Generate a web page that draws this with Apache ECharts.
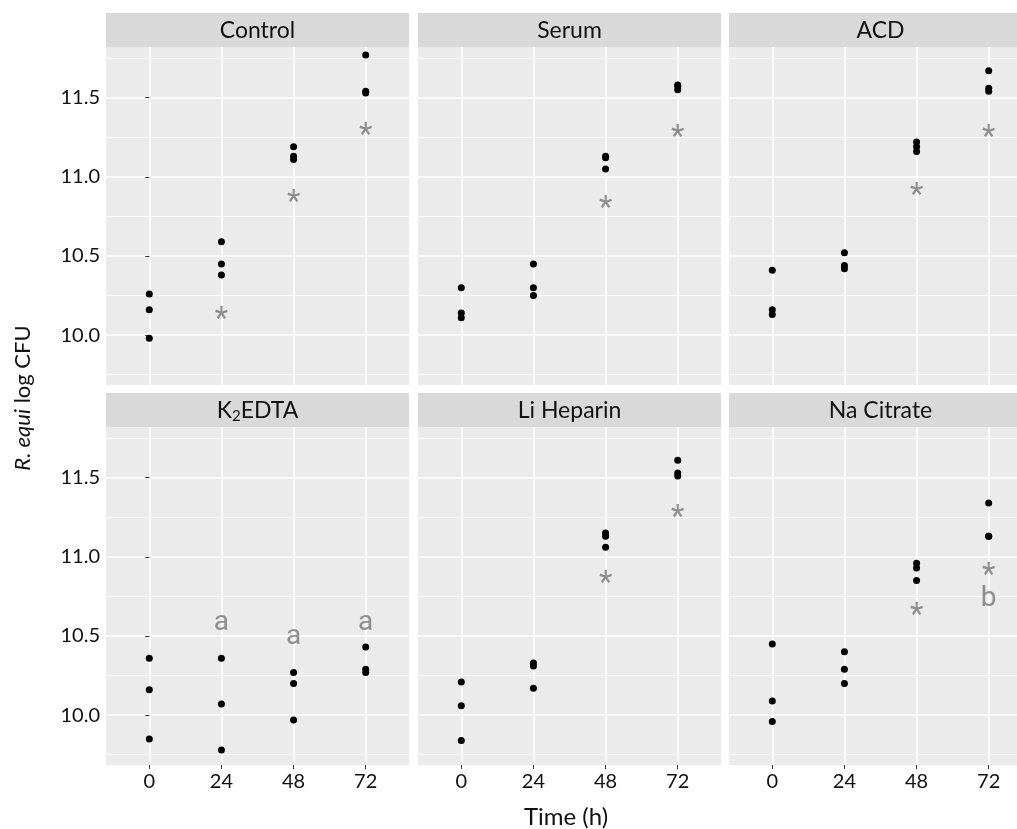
<!DOCTYPE html>
<html>
<head>
<meta charset="utf-8">
<script src="https://cdn.jsdelivr.net/npm/echarts@6/dist/echarts.min.js"></script>
<style>
html,body{margin:0;padding:0;background:#fff}
#chart{width:1017px;height:829px}
</style>
</head>
<body>
<div id="chart"></div>
<script>
// sampling times (h) and axis ticks
const times = [0, 24, 48, 72];
const yTicks = [10, 10.5, 11, 11.5];
const yMinorTicks = [9.75, 10.25, 10.75, 11.25, 11.75];
const panelNames = ['Control', 'Serum', 'ACD', 'K2EDTA', 'Li Heparin', 'Na Citrate'];

// log CFU replicates, one row per time point
const controlCFU = [[10.26, 10.16, 9.98], [10.59, 10.45, 10.38], [11.19, 11.13, 11.11], [11.77, 11.54, 11.53]];
const serumCFU   = [[10.30, 10.14, 10.11], [10.45, 10.30, 10.25], [11.13, 11.12, 11.05], [11.58, 11.57, 11.55]];
const acdCFU     = [[10.41, 10.16, 10.13], [10.52, 10.44, 10.42], [11.22, 11.19, 11.16], [11.67, 11.56, 11.54]];
const edtaCFU    = [[10.36, 10.16, 9.85], [10.36, 10.07, 9.78], [10.27, 10.20, 9.97], [10.43, 10.29, 10.27]];
const heparinCFU = [[10.21, 10.06, 9.84], [10.33, 10.31, 10.17], [11.15, 11.13, 11.06], [11.61, 11.53, 11.51]];
const citrateCFU = [[10.45, 10.09, 9.96], [10.40, 10.29, 10.20], [10.96, 10.93, 10.85], [11.34, 11.13, 11.13]];

// significance marks: asterisk height per time point (null = none)
const controlStar = [null, 10.14, 10.88, 11.30];
const serumStar   = [null, null, 10.84, 11.29];
const acdStar     = [null, null, 10.92, 11.29];
const edtaStar    = [null, null, null, null];
const heparinStar = [null, null, 10.87, 11.29];
const citrateStar = [null, null, 10.67, 10.92];

// letter marks
const edtaLetters = ['', 'a', 'a', 'a'];
const edtaLetterY = [null, 10.59, 10.50, 10.59];
const citrateLetters = ['', '', '', 'b'];
const citrateLetterY = [null, null, null, 10.74];

const allCFU = [controlCFU, serumCFU, acdCFU, edtaCFU, heparinCFU, citrateCFU];
const allStars = [controlStar, serumStar, acdStar, edtaStar, heparinStar, citrateStar];
const noLetters = ['', '', '', ''];
const noLetterY = [null, null, null, null];
const allLetters = [noLetters, noLetters, noLetters, edtaLetters, noLetters, citrateLetters];
const allLetterY = [noLetterY, noLetterY, noLetterY, edtaLetterY, noLetterY, citrateLetterY];

const colLeft = [106, 418, 729];
const rowTop = [47, 427];
const panelW = 303, panelH = 338, stripH = 34;
const yMin = 9.685, yMax = 11.82;
const font = 'Lato, "Open Sans", sans-serif';
const markFont = '"Liberation Sans Narrow", Roboto, sans-serif';
const markColor = '#767676';
const textColor = '#111';

let myChart = echarts.init(document.getElementById('chart'));

let grids = [], xAxes = [], yAxes = [], series = [], graphics = [];

panelNames.forEach((name, i) => {
    const col = i % 3, row = Math.floor(i / 3);
    const left = colLeft[col], top = rowTop[row];
    const bottomRow = row === 1, leftCol = col === 0;

    grids.push({
        left: left, top: top, width: panelW, height: panelH,
        show: true, backgroundColor: '#EBEBEB', borderWidth: 0,
        outerBoundsMode: 'none'
    });
    xAxes.push({
        gridIndex: i, type: 'value', min: -14.4, max: 86.4,
        axisLine: {show: false},
        axisTick: {show: bottomRow, customValues: times, length: 4, lineStyle: {color: '#333', width: 1}},
        axisLabel: {show: bottomRow, customValues: times, color: textColor, fontSize: 20, fontFamily: font, margin: 7},
        splitLine: {show: true, lineStyle: {color: '#fff', width: 1.6}}
    });
    yAxes.push({
        gridIndex: i, type: 'value', min: yMin, max: yMax,
        axisLine: {show: false},
        axisTick: {show: leftCol, customValues: yTicks, length: 4, lineStyle: {color: '#333', width: 1}},
        axisLabel: {show: leftCol, customValues: yTicks, color: textColor, fontSize: 20, fontFamily: font, margin: 6,
            formatter: v => v.toFixed(1)},
        splitLine: {show: true, lineStyle: {color: '#fff', width: 1.6}}
    });
    // minor grid lines
    yAxes.push({
        gridIndex: i, type: 'value', min: yMin, max: yMax, position: 'right',
        axisLine: {show: false},
        axisTick: {show: false, customValues: yMinorTicks},
        axisLabel: {show: false},
        splitLine: {show: true, lineStyle: {color: '#fff', width: 0.8}}
    });

    let pts = [];
    allCFU[i].forEach((vals, t) => vals.forEach(v => pts.push([times[t], v])));
    series.push({
        type: 'scatter', xAxisIndex: i, yAxisIndex: 2 * i, data: pts,
        symbolSize: 7, itemStyle: {color: '#000', opacity: 1}, z: 4
    });

    let marks = [];
    allStars[i].forEach((v, t) => {
        if (v !== null) marks.push({value: [times[t], v, '*'], label: {fontSize: 31, offset: [0, 7]}});
    });
    allLetterY[i].forEach((v, t) => {
        if (v !== null) marks.push({value: [times[t], v, allLetters[i][t]], label: {fontSize: 28, offset: [0, 1]}});
    });
    series.push({
        type: 'scatter', xAxisIndex: i, yAxisIndex: 2 * i, data: marks,
        symbolSize: 1, itemStyle: {color: 'rgba(0,0,0,0)'}, z: 3,
        label: {
            show: true, position: 'inside', color: markColor, fontFamily: markFont,
            formatter: p => p.data.value[2]
        }
    });

    // facet strip
    graphics.push({
        type: 'rect', shape: {x: left, y: top - stripH, width: panelW, height: stripH},
        style: {fill: '#D9D9D9'}, silent: true
    });
    graphics.push({
        type: 'text', x: left + panelW / 2, y: top - stripH / 2 + 1, silent: true,
        style: name === 'K2EDTA' ? {
            text: '{n|K}{s|2}{n|EDTA}', align: 'center', verticalAlign: 'middle',
            rich: {
                n: {fontSize: 23, fontFamily: font, fill: textColor},
                s: {fontSize: 15, fontFamily: font, fill: textColor, verticalAlign: 'bottom', padding: [11, 0, 0, 0]}
            }
        } : {
            text: name, align: 'center', verticalAlign: 'middle',
            fontSize: 23, fontFamily: font, fill: textColor
        }
    });
});

graphics.push({
    type: 'text', x: 566, y: 817, silent: true,
    style: {text: 'Time (h)', align: 'center', verticalAlign: 'middle', fontSize: 24, fontFamily: font, fill: textColor}
});
graphics.push({
    type: 'text', x: 23, y: 398, rotation: Math.PI / 2, silent: true,
    style: {
        text: '{i|R. equi} log CFU', align: 'center', verticalAlign: 'middle',
        rich: {
            i: {fontSize: 22, fontFamily: font, fontStyle: 'italic', fill: textColor}
        },
        fontSize: 22, fontFamily: font, fill: textColor
    }
});

let option = {
    animation: false,
    backgroundColor: '#fff',
    grid: grids,
    xAxis: xAxes,
    yAxis: yAxes,
    series: series,
    graphic: graphics
};
myChart.setOption(option);
</script>
</body>
</html>
